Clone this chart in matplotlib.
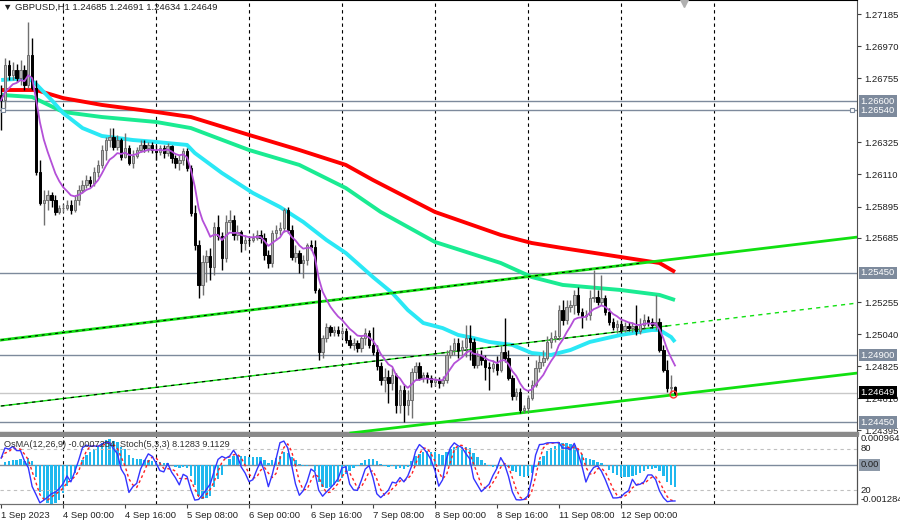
import numpy as np
import pandas as pd
import matplotlib
matplotlib.use('Agg')
import matplotlib.pyplot as plt
import matplotlib.transforms as mtransforms

# GBPUSD H1, 1 Sep 2023 08:00 .. 12 Sep 2023 14:00
first_open = 1.26643
closes = [
    1.26609, 1.26844, 1.26777, 1.26810, 1.26756, 1.26810, 1.26710, 1.26911, 1.26689, 1.26127,
    1.25919, 1.25939, 1.25973, 1.25939, 1.25859, 1.25885, 1.25885, 1.25906, 1.25872, 1.25939,
    1.26006, 1.26040, 1.26073, 1.26053, 1.26127, 1.26174, 1.26274, 1.26341, 1.26361, 1.26294,
    1.26341, 1.26227, 1.26287, 1.26187, 1.26234, 1.26274, 1.26308, 1.26287, 1.26308, 1.26274,
    1.26261, 1.26287, 1.26254, 1.26301, 1.26220, 1.26187, 1.26207, 1.26267, 1.26153, 1.25852,
    1.25638, 1.25370, 1.25524, 1.25564, 1.25490, 1.25758, 1.25698, 1.25550, 1.25792, 1.25805,
    1.25705, 1.25725, 1.25651, 1.25671, 1.25668, 1.25684, 1.25705, 1.25684, 1.25571, 1.25517,
    1.25718, 1.25738, 1.25751, 1.25872, 1.25738, 1.25557, 1.25584, 1.25517, 1.25537, 1.25638,
    1.25624, 1.25336, 1.24921, 1.25014, 1.25088, 1.25055, 1.25068, 1.25048, 1.25061, 1.25001,
    1.24968, 1.24981, 1.24947, 1.25014, 1.25048, 1.24968, 1.24921, 1.24827, 1.24733, 1.24753,
    1.24713, 1.24767, 1.24566, 1.24666, 1.24566, 1.24599, 1.24787, 1.24827, 1.24746, 1.24767,
    1.24746, 1.24720, 1.24733, 1.24713, 1.24733, 1.24901, 1.24934, 1.24981, 1.24934, 1.24954,
    1.25014, 1.24988, 1.24834, 1.24894, 1.24867, 1.24820, 1.24813, 1.24840, 1.24800, 1.24921,
    1.24880, 1.24746, 1.24626, 1.24653, 1.24532, 1.24545, 1.24612, 1.24700, 1.24813, 1.24854,
    1.24880, 1.24988, 1.25014, 1.25028, 1.25202, 1.25135, 1.25222, 1.25236, 1.25303, 1.25189,
    1.25162, 1.25169, 1.25282, 1.25289, 1.25256, 1.25282, 1.25189, 1.25122, 1.25088, 1.25108,
    1.25068, 1.25095, 1.25081, 1.25095, 1.25061, 1.25102, 1.25135, 1.25122, 1.25102, 1.25122,
    1.24934, 1.24800, 1.24679, 1.24685, 1.24649,
]
highs = [
    1.26710, 1.26890, 1.26877, 1.26864, 1.26850, 1.26877, 1.26844, 1.27132, 1.27024, 1.26743,
    1.26207, 1.26006, 1.26006, 1.25993, 1.25973, 1.25906, 1.25912, 1.25939, 1.25939, 1.25973,
    1.26040, 1.26073, 1.26107, 1.26100, 1.26160, 1.26207, 1.26308, 1.26361, 1.26421, 1.26421,
    1.26375, 1.26354, 1.26388, 1.26308, 1.26274, 1.26294, 1.26341, 1.26341, 1.26328, 1.26328,
    1.26308, 1.26308, 1.26308, 1.26321, 1.26308, 1.26241, 1.26241, 1.26287, 1.26287, 1.26174,
    1.25906, 1.25671, 1.25571, 1.25604, 1.25617, 1.25792, 1.25839, 1.25725, 1.25839, 1.25872,
    1.25839, 1.25772, 1.25738, 1.25705, 1.25698, 1.25718, 1.25738, 1.25738, 1.25718, 1.25604,
    1.25738, 1.25772, 1.25792, 1.25885, 1.25892, 1.25772, 1.25638, 1.25604, 1.25571, 1.25651,
    1.25671, 1.25671, 1.25349, 1.25035, 1.25115, 1.25102, 1.25095, 1.25095, 1.25088, 1.25081,
    1.25035, 1.25014, 1.25001, 1.25035, 1.25081, 1.25068, 1.25088, 1.24968, 1.24854, 1.24813,
    1.24800, 1.24813, 1.24780, 1.24700, 1.24700, 1.24666, 1.24813, 1.24854, 1.24854, 1.24787,
    1.24787, 1.24767, 1.24753, 1.24753, 1.24760, 1.24934, 1.24968, 1.25014, 1.25014, 1.25001,
    1.25102, 1.25102, 1.25014, 1.24934, 1.24934, 1.24901, 1.24854, 1.24867, 1.24894, 1.24968,
    1.25148, 1.24934, 1.24767, 1.24679, 1.24679, 1.24566, 1.24633, 1.24733, 1.24867, 1.24901,
    1.24934, 1.25028, 1.25055, 1.25068, 1.25236, 1.25269, 1.25269, 1.25269, 1.25336, 1.25356,
    1.25215, 1.25202, 1.25336, 1.25470, 1.25336, 1.25437, 1.25303, 1.25215, 1.25148, 1.25135,
    1.25135, 1.25122, 1.25122, 1.25122, 1.25236, 1.25148, 1.25175, 1.25162, 1.25148, 1.25303,
    1.25148, 1.24968, 1.24867, 1.24767, 1.24691,
]
lows = [
    1.26408, 1.26555, 1.26743, 1.26743, 1.26730, 1.26710, 1.26676, 1.26689, 1.26676, 1.26107,
    1.25906, 1.25772, 1.25872, 1.25892, 1.25839, 1.25845, 1.25859, 1.25872, 1.25845, 1.25859,
    1.25906, 1.25986, 1.26019, 1.26026, 1.26033, 1.26093, 1.26153, 1.26207, 1.26294, 1.26274,
    1.26274, 1.26207, 1.26220, 1.26174, 1.26153, 1.26220, 1.26261, 1.26261, 1.26261, 1.26254,
    1.26207, 1.26241, 1.26220, 1.26234, 1.26187, 1.26153, 1.26140, 1.26174, 1.26133, 1.25832,
    1.25604, 1.25282, 1.25303, 1.25390, 1.25403, 1.25437, 1.25671, 1.25470, 1.25524, 1.25738,
    1.25671, 1.25671, 1.25591, 1.25604, 1.25644, 1.25658, 1.25671, 1.25651, 1.25537, 1.25483,
    1.25490, 1.25671, 1.25705, 1.25725, 1.25718, 1.25537, 1.25524, 1.25450, 1.25416, 1.25504,
    1.25604, 1.25316, 1.24867, 1.24880, 1.24988, 1.25028, 1.25028, 1.25028, 1.25014, 1.24981,
    1.24947, 1.24934, 1.24921, 1.24921, 1.24968, 1.24947, 1.24901, 1.24800, 1.24700, 1.24653,
    1.24579, 1.24666, 1.24512, 1.24512, 1.24452, 1.24499, 1.24478, 1.24733, 1.24733, 1.24720,
    1.24713, 1.24686, 1.24693, 1.24679, 1.24693, 1.24713, 1.24880, 1.24901, 1.24880, 1.24887,
    1.24887, 1.24867, 1.24813, 1.24813, 1.24834, 1.24733, 1.24666, 1.24787, 1.24767, 1.24787,
    1.24854, 1.24733, 1.24599, 1.24599, 1.24512, 1.24512, 1.24519, 1.24599, 1.24686, 1.24787,
    1.24827, 1.24867, 1.24947, 1.24988, 1.25001, 1.25102, 1.25108, 1.25189, 1.25175, 1.25169,
    1.25081, 1.25135, 1.25135, 1.25256, 1.25236, 1.25236, 1.25169, 1.25102, 1.25068, 1.25048,
    1.25048, 1.25055, 1.25061, 1.25055, 1.25035, 1.25041, 1.25081, 1.25095, 1.25081, 1.25068,
    1.24921, 1.24787, 1.24653, 1.24646, 1.24634,
]

# long moving averages (bar index, price)
ma_red_idx = [0, 9, 16, 26, 40, 49, 64, 77, 89, 96, 112, 129, 137, 145, 160, 170, 174]
ma_red_val = [1.26676, 1.26676, 1.26622, 1.26576, 1.26529, 1.26495, 1.26375, 1.26274, 1.26174,
              1.26073, 1.25859, 1.25705, 1.25651, 1.25617, 1.25557, 1.25517, 1.25457]
ma_green_idx = [0, 8, 16, 26, 40, 49, 64, 77, 89, 98, 112, 129, 137, 145, 160, 170, 174]
ma_green_val = [1.26643, 1.26629, 1.26529, 1.26495, 1.26462, 1.26421, 1.26274, 1.26174, 1.26019,
                1.25859, 1.25658, 1.25517, 1.25423, 1.25370, 1.25336, 1.25303, 1.25269]
ma_cyan_idx = [0, 7, 9, 13, 16, 21, 26, 34, 40, 48, 50, 57, 65, 72, 78, 84, 89, 96, 101, 105,
               109, 114, 118, 122, 126, 132, 137, 142, 147, 152, 160, 168, 170, 173, 174]
ma_cyan_val = [1.26743, 1.26756, 1.26716, 1.26609, 1.26522, 1.26421, 1.26368, 1.26341, 1.26328,
               1.26308, 1.26254, 1.26120, 1.25986, 1.25892, 1.25792, 1.25671, 1.25584, 1.25423,
               1.25316, 1.25202, 1.25115, 1.25081, 1.25035, 1.25014, 1.24988, 1.24968, 1.24914,
               1.24901, 1.24934, 1.24988, 1.25035, 1.25068, 1.25068, 1.25021, 1.24988]

# horizontal levels and trend lines
levels = [1.26600, 1.26540, 1.25450, 1.24900, 1.24450]
upper_line = ([0, 221.2], [1.25001, 1.25691])
mid_line = ([0, 221.2], [1.24559, 1.25249])
lower_line = ([90.3, 221.2], [1.24378, 1.24780])

price_ticks = [1.27185, 1.26970, 1.26755, 1.26325, 1.26110, 1.25895, 1.25685,
               1.25255, 1.25040, 1.24825, 1.24610, 1.24395]
day_idx = [16, 40, 64, 88, 112, 136, 160, 184]
x_tick_idx = [0, 16, 32, 48, 64, 80, 96, 112, 128, 144, 160]
x_tick_labels = ['1 Sep 2023', '4 Sep 00:00', '4 Sep 16:00', '5 Sep 08:00', '6 Sep 00:00',
                 '6 Sep 16:00', '7 Sep 08:00', '8 Sep 00:00', '8 Sep 16:00', '11 Sep 08:00',
                 '12 Sep 00:00']

c = np.array(closes)
o = np.r_[first_open, c[:-1]]
h = np.maximum(np.array(highs), np.maximum(o, c))
l = np.minimum(np.array(lows), np.minimum(o, c))
idx = np.arange(len(c))

# indicators
cs = pd.Series(c)
ema_fast = cs.ewm(span=12, adjust=False).mean()
ema_slow = cs.ewm(span=26, adjust=False).mean()
macd = ema_fast - ema_slow
osma = macd - macd.rolling(9, min_periods=1).mean()
ll = pd.Series(l).rolling(5, min_periods=1).min()
hh = pd.Series(h).rolling(5, min_periods=1).max()
stoch_k = 100 * (cs - ll).rolling(3, min_periods=1).sum() / (hh - ll).rolling(3, min_periods=1).sum()
stoch_d = stoch_k.rolling(3, min_periods=1).mean()
ma_short = cs.ewm(span=8, adjust=False).mean()

plt.rcParams['font.family'] = ['Liberation Sans', 'DejaVu Sans']
FS = 6.8
fig = plt.figure(figsize=(9, 5.23), dpi=100)
ax = fig.add_axes([0, 90 / 523, 857 / 900, 433 / 523])
axo = fig.add_axes([0, 19 / 523, 857 / 900, 69 / 523], sharex=ax)
axs = axo.twinx()

ax.set_xlim(-0.3, 221)
ax.set_ylim(1.24378, 1.27279)

# grid and levels
for d in day_idx:
    ax.axvline(d, color='black', lw=0.8, ls=(0, (3, 3)), zorder=1)
    axo.axvline(d, color='black', lw=0.8, ls=(0, (3, 3)), zorder=1)
for lv in levels:
    ax.axhline(lv, color='#7d8a9c', lw=1, zorder=2)
ax.axhline(c[-1], color='#c8c8c8', lw=1, zorder=2)

# moving averages
ax.plot(ma_red_idx, ma_red_val, color='#ff0000', lw=2.8, zorder=3, solid_capstyle='butt')
ax.plot(ma_green_idx, ma_green_val, color='#1aeb92', lw=2.8, zorder=3, solid_capstyle='butt')
ax.plot(ma_cyan_idx, ma_cyan_val, color='#2ae8f5', lw=2.8, zorder=3, solid_capstyle='butt')

# trend lines
ax.plot(*upper_line, color='#11e011', lw=2, zorder=4)
xs = [0, 165]
ax.plot(xs, np.interp(xs, *upper_line), color='black', lw=0.7, ls=(0, (3, 4)), zorder=4)
xs = [0, 172]
ax.plot(xs, np.interp(xs, *mid_line), color='#11e011', lw=1, zorder=4)
ax.plot(xs, np.interp(xs, *mid_line), color='black', lw=0.8, ls=(0, (3, 4)), zorder=4)
xs = [172, 221.2]
ax.plot(xs, np.interp(xs, *mid_line), color='#11e011', lw=1, ls=(0, (3, 3)), zorder=4)
ax.plot(*lower_line, color='#11e011', lw=2, zorder=4)

# candles
bull = c >= o
ax.vlines(idx[bull], l[bull], h[bull], color='#707070', lw=1, zorder=5)
ax.vlines(idx[~bull], l[~bull], h[~bull], color='black', lw=1, zorder=5)
body_lo = np.minimum(o, c)
body_h = np.maximum(np.abs(c - o), 0.00003)
ax.bar(idx[bull], body_h[bull], bottom=body_lo[bull], width=0.62,
       color='#b4b4b4', edgecolor='#6e6e6e', lw=0.7, zorder=6)
ax.bar(idx[~bull], body_h[~bull], bottom=body_lo[~bull], width=0.62,
       color='black', edgecolor='black', lw=0.7, zorder=6)

ax.plot(idx, ma_short, color='#b450d8', lw=1.3, zorder=7)
ax.plot([idx[-1] - 0.5], [c[-1] - 0.00008], 'o', ms=5, mfc='none', mec='#ff3030', mew=1, zorder=8)
ax.plot([0.4, 219.8], [1.26540, 1.26540], 's', ms=3.5, mfc='white', mec='#7d8a9c', mew=0.8, zorder=8)

# right price axis
ax.yaxis.tick_right()
ax.set_yticks(price_ticks)
ax.set_yticklabels([f'{p:.5f}' for p in price_ticks])
ax.tick_params(axis='y', labelsize=FS, length=3, pad=2, color='#404040', labelcolor='#202020')
ax.tick_params(axis='x', bottom=False, labelbottom=False)
tr = mtransforms.blended_transform_factory(ax.transAxes, ax.transData)
for lv in levels:
    ax.text(1.004, lv, f'{lv:.5f}', transform=tr, ha='left', va='center', fontsize=FS,
            color='white', zorder=10,
            bbox=dict(boxstyle='square,pad=0.2', fc='#7d8a9c', ec='none'))
ax.text(1.004, c[-1], f'{c[-1]:.5f}', transform=tr, ha='left', va='center', fontsize=FS,
        color='white', zorder=10, bbox=dict(boxstyle='square,pad=0.2', fc='black', ec='none'))

ax.text(0.004, 0.993, '\u25bc GBPUSD,H1 1.24685 1.24691 1.24634 1.24649', transform=ax.transAxes,
        ha='left', va='top', fontsize=6.8, color='#202020', zorder=9)
ax.plot([176.3], [1.27262], marker='v', ms=6, color='#b0b0b0', zorder=9, clip_on=False)

ax.spines['left'].set_visible(False)
ax.spines['top'].set_color('black')
ax.spines['right'].set_color('#505050')
ax.spines['bottom'].set_color('#8a8a8a')
ax.spines['bottom'].set_linewidth(2.5)

# lower panel: OsMA histogram + stochastic
axo.set_ylim(-0.001284, 0.0009647)
axo.bar(idx, osma, width=0.62, color='#1fb8ee', zorder=2)
axo.axhline(0, color='#7d8a9c', lw=1, zorder=1)
axs.set_ylim(0, 100)
axs.axhline(80, color='#c0c0c0', lw=0.8, ls=(0, (3, 3)))
axs.axhline(20, color='#c0c0c0', lw=0.8, ls=(0, (3, 3)))
axs.plot(idx, stoch_d, color='#ff2020', lw=1, ls=(0, (2, 2)), zorder=3)
axs.plot(idx, stoch_k, color='#3434ff', lw=1, zorder=4)

axo.set_yticks([])
axs.set_yticks([])
for a in (axo, axs):
    a.spines['left'].set_visible(False)
    a.spines['top'].set_color('#8a8a8a')
    a.spines['top'].set_linewidth(2)
    a.spines['right'].set_color('#505050')
    a.spines['bottom'].set_color('#707070')
axo.set_xticks(x_tick_idx)
axo.set_xticklabels(x_tick_labels)
axo.tick_params(axis='x', labelsize=FS, length=3, pad=2, color='#404040', labelcolor='#202020')
for lbl in axo.get_xticklabels():
    lbl.set_ha('left')

tro = mtransforms.blended_transform_factory(axs.transAxes, axs.transData)
axs.text(1.004, 101, '0.0009647', transform=tro, ha='left', va='top', fontsize=FS, color='#202020')
axs.text(1.004, 80, '80', transform=tro, ha='left', va='center', fontsize=FS, color='#202020')
axs.text(1.004, 20, '20', transform=tro, ha='left', va='center', fontsize=FS, color='#202020')
axs.text(1.004, 0, '-0.001284', transform=tro, ha='left', va='bottom', fontsize=FS, color='#202020')
axo.text(1.004, 0, '0.00', transform=mtransforms.blended_transform_factory(axo.transAxes, axo.transData),
         ha='left', va='center', fontsize=FS, color='#202020',
         bbox=dict(boxstyle='square,pad=0.15', fc='#8d99a8', ec='none'))
axs.text(0.005, 0.93, 'OsMA(12,26,9) -0.0007254  Stoch(5,3,3) 8.1283 9.1129',
         transform=axs.transAxes, ha='left', va='top', fontsize=6.6, color='#303030', zorder=6)

fig.savefig('out.png', dpi=100)
